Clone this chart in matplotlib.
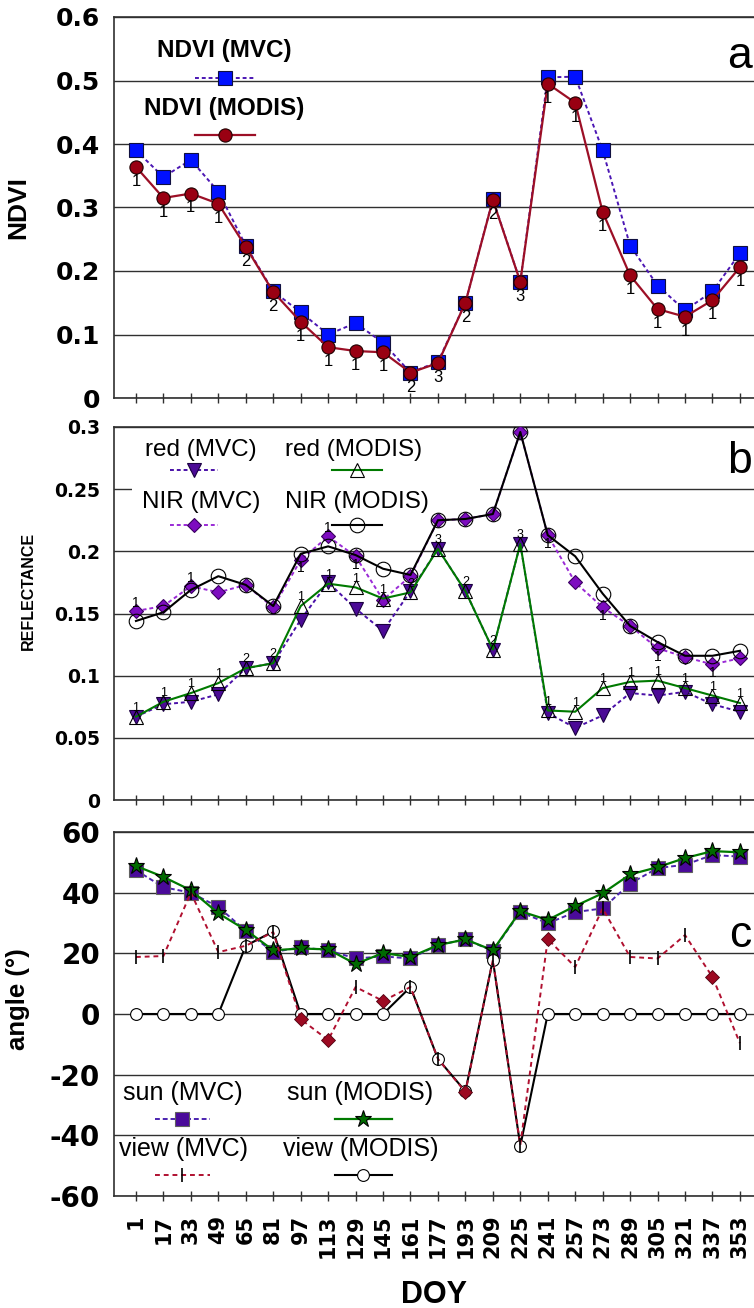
import numpy as np
import matplotlib.pyplot as plt
from matplotlib.ticker import FuncFormatter
from matplotlib.patches import Rectangle

plt.rcParams['font.family'] = ['Liberation Sans', 'DejaVu Sans']

# composite periods (day of year)
doy = [1, 17, 33, 49, 65, 81, 97, 113, 129, 145, 161, 177, 193, 209, 225,
       241, 257, 273, 289, 305, 321, 337, 353]
# number of MODIS observations in each period
n_obs = ['1', '1', '1', '1', '2', '2', '1', '1', '1', '1', '2', '3', '2', '2', '3',
         '1', '1', '1', '1', '1', '1', '1', '1']

ndvi_mvc = [0.390, 0.348, 0.375, 0.325, 0.240, 0.168, 0.135, 0.100, 0.118, 0.087, 0.040, 0.057,
            0.150, 0.313, 0.183, 0.505, 0.506, 0.390, 0.240, 0.177, 0.138, 0.168, 0.228]
ndvi_modis = [0.364, 0.315, 0.322, 0.306, 0.238, 0.167, 0.120, 0.080, 0.074, 0.072, 0.040, 0.055,
              0.150, 0.312, 0.183, 0.495, 0.465, 0.293, 0.193, 0.140, 0.128, 0.154, 0.206]

red_mvc = [0.067, 0.077, 0.079, 0.085, 0.106, 0.110, 0.145, 0.175, 0.154, 0.136, 0.168, 0.202,
           0.168, 0.121, 0.206, 0.070, 0.058, 0.068, 0.086, 0.084, 0.087, 0.077, 0.071]
red_modis = [0.067, 0.079, 0.086, 0.094, 0.106, 0.110, 0.156, 0.174, 0.171, 0.162, 0.167, 0.202,
             0.168, 0.121, 0.206, 0.072, 0.071, 0.090, 0.095, 0.096, 0.090, 0.084, 0.078]
nir_mvc = [0.152, 0.156, 0.172, 0.167, 0.173, 0.155, 0.193, 0.212, 0.196, 0.161, 0.180, 0.225,
           0.226, 0.230, 0.296, 0.213, 0.175, 0.155, 0.140, 0.122, 0.115, 0.109, 0.114]
nir_modis = [0.144, 0.151, 0.169, 0.180, 0.173, 0.156, 0.198, 0.204, 0.197, 0.186, 0.181, 0.225,
             0.226, 0.230, 0.296, 0.213, 0.196, 0.166, 0.140, 0.127, 0.116, 0.116, 0.120]
nir_one_above = [1, 33, 113]
nir_one_below = [97, 129, 241, 273, 305, 337]

sun_mvc = [47.4, 41.8, 40.0, 35.3, 27.4, 20.4, 22.0, 21.0, 18.3, 19.0, 18.3, 22.7,
           24.6, 20.8, 33.6, 29.9, 33.6, 34.8, 43.0, 48.1, 49.2, 52.4, 51.9]
sun_modis = [48.8, 45.2, 40.8, 33.2, 27.7, 21.0, 21.6, 21.3, 16.5, 20.1, 18.8, 22.7,
             24.6, 21.0, 33.9, 31.0, 35.6, 39.8, 46.0, 48.4, 51.4, 53.7, 53.3]
view_mvc = [18.8, 19.1, 40.0, 20.4, 22.5, 27.0, -1.7, -8.6, 8.9, 4.3, 8.9, -14.8,
            -25.7, 17.8, -43.2, 24.7, 15.5, 34.8, 18.8, 18.3, 26.0, 12.2, -9.6]
view_modis = [0, 0, 0, 0, 22.5, 27.2, 0, 0, 0, 0, 8.9, -14.8,
              -25.5, 17.8, -43.5, 0, 0, 0, 0, 0, 0, 0, 0]
view_diamond_doy = [97, 113, 145, 193, 241, 337]

# styles
s_ndvi_mvc = dict(color='#4b16b4', ls=(0, (2, 1.5)), lw=1.4, marker='s', ms=9.5,
                  mfc='#0010ff', mec='#101040', mew=0.8)
s_ndvi_modis = dict(color='#9c0f26', ls='-', lw=1.6, marker='o', ms=9.5,
                    mfc='#990012', mec='#200000', mew=0.8)
s_red_mvc = dict(color='#4a10a8', ls=(0, (2, 1.5)), lw=1.4, marker='v', ms=10,
                 mfc='#4b0a96', mec='#1a0040', mew=0.8)
s_red_modis = dict(color='#007a00', ls='-', lw=1.5, marker='^', ms=10,
                   mfc='none', mec='black', mew=0.8)
s_nir_mvc = dict(color='#9a2ad6', ls=(0, (2, 1.5)), lw=1.4, marker='D', ms=7.5,
                 mfc='#7d0cc0', mec='#3a0060', mew=0.8)
s_nir_modis = dict(color='black', ls='-', lw=1.5, marker='o', ms=10.5,
                   mfc='none', mec='black', mew=0.8)
s_sun_mvc = dict(color='#4b22b0', ls=(0, (2.5, 1.5)), lw=1.4, marker='s', ms=10,
                 mfc='#4a0a9a', mec='#606060', mew=0.8)
s_sun_modis = dict(color='#007a00', ls='-', lw=1.6, marker='*', ms=12.5,
                   mfc='#006a00', mec='black', mew=0.8)
s_view_mvc = dict(color='#b01030', ls=(0, (2.5, 2)), lw=1.4, marker='|', ms=10,
                  mec='black', mew=1.2)
s_view_modis = dict(color='black', ls='-', lw=1.5, marker='o', ms=8.5,
                    mfc='white', mec='black', mew=0.8)

fig = plt.figure(figsize=(7.54, 13.08), dpi=100)
left, width = 114 / 754, 1 - 114 / 754
ax_a = fig.add_axes([left, 1 - 398 / 1308, width, 381 / 1308])
ax_b = fig.add_axes([left, 1 - 800 / 1308, width, 373 / 1308])
ax_c = fig.add_axes([left, 1 - 1196 / 1308, width, 364 / 1308])

fmt = FuncFormatter(lambda v, p: '%g' % round(v, 3))
tick_fs = {ax_a: 18, ax_b: 13.5, ax_c: 20}
for ax in (ax_a, ax_b, ax_c):
    ax.set_xlim(-11.8, 361.2)
    ax.set_xticks(doy)
    ax.set_axisbelow(True)
    ax.grid(axis='y', color='#303030', lw=1.0)
    ax.spines['right'].set_visible(False)
    for sp in ('left', 'top', 'bottom'):
        ax.spines[sp].set_color('#303030')
        ax.spines[sp].set_linewidth(1.2)
    ax.tick_params(axis='x', direction='inout', length=7, width=1, color='#303030')
    ax.tick_params(axis='y', length=0, pad=10)
    ax.yaxis.set_major_formatter(fmt)
    for lab in ax.get_yticklabels():
        lab.set_family('DejaVu Sans')
        lab.set_fontweight('bold')
        lab.set_fontsize(tick_fs[ax])


def key(ax, tx, ty, label, hx0, hx1, hy, fs, weight, style):
    ax.text(tx, ty, label, transform=ax.transAxes, ha='center', va='center',
            fontsize=fs, fontweight=weight, zorder=8)
    ax.plot([hx0, (hx0 + hx1) / 2, hx1], [hy] * 3, transform=ax.transAxes,
            markevery=[1], clip_on=False, zorder=8, **style)


# ---- panel a: NDVI ----
ax_a.set_ylim(0, 0.6)
ax_a.set_yticks(np.arange(0, 0.61, 0.1))
ax_a.tick_params(axis='x', labelbottom=False)
ax_a.plot(doy, ndvi_mvc, zorder=3, **s_ndvi_mvc)
ax_a.plot(doy, ndvi_modis, zorder=4, **s_ndvi_modis)
for x, y, n in zip(doy, ndvi_modis, n_obs):
    ax_a.annotate(n, (x, y), xytext=(0, -5), textcoords='offset points',
                  ha='center', va='top', fontsize=12, zorder=5)
ax_a.set_ylabel('NDVI', fontsize=19, fontweight='bold')
ax_a.yaxis.set_label_coords(-0.131, 0.5)
ax_a.text(0.978, 0.866, 'a', transform=ax_a.transAxes, ha='center', va='baseline', fontsize=32)
key(ax_a, 0.172, 0.913, 'NDVI (MVC)', 0.127, 0.220, 0.840, 17.5, 'bold', s_ndvi_mvc)
key(ax_a, 0.172, 0.761, 'NDVI (MODIS)', 0.127, 0.220, 0.690, 17.5, 'bold', s_ndvi_modis)

# ---- panel b: reflectance ----
ax_b.set_ylim(0, 0.3)
ax_b.set_yticks(np.arange(0, 0.301, 0.05))
ax_b.tick_params(axis='x', labelbottom=False)
ax_b.add_patch(Rectangle((0.028, 0.745), 0.544, 0.25, transform=ax_b.transAxes,
                         facecolor='white', edgecolor='none', zorder=1))
ax_b.plot(doy, nir_mvc, zorder=3, **s_nir_mvc)
ax_b.plot(doy, nir_modis, zorder=4, **s_nir_modis)
ax_b.plot(doy, red_mvc, zorder=3, **s_red_mvc)
ax_b.plot(doy, red_modis, zorder=4, **s_red_modis)
for x, y, n in zip(doy, red_modis, n_obs):
    ax_b.annotate(n, (x, y), xytext=(0, 2), textcoords='offset points',
                  ha='center', va='bottom', fontsize=9, zorder=5)
for x, y in zip(doy, nir_mvc):
    if x in nir_one_above:
        ax_b.annotate('1', (x, y), xytext=(0, 1), textcoords='offset points',
                      ha='center', va='bottom', fontsize=10, zorder=5)
    elif x in nir_one_below:
        ax_b.annotate('1', (x, y), xytext=(0, -1), textcoords='offset points',
                      ha='center', va='top', fontsize=10, zorder=5)
ax_b.set_ylabel('REFLECTANCE', fontsize=11.5, fontweight='bold')
ax_b.yaxis.set_label_coords(-0.122, 0.56)
ax_b.text(0.978, 0.877, 'b', transform=ax_b.transAxes, ha='center', va='baseline', fontsize=32)
key(ax_b, 0.136, 0.938, 'red (MVC)', 0.0875, 0.1625, 0.885, 17.5, 'normal', s_red_mvc)
key(ax_b, 0.375, 0.938, 'red (MODIS)', 0.340, 0.419, 0.885, 17.5, 'normal', s_red_modis)
key(ax_b, 0.136, 0.799, 'NIR (MVC)', 0.0875, 0.1625, 0.737, 17.5, 'normal', s_nir_mvc)
key(ax_b, 0.380, 0.799, 'NIR (MODIS)', 0.340, 0.419, 0.737, 17.5, 'normal', s_nir_modis)

# ---- panel c: angles ----
ax_c.set_ylim(-60, 60)
ax_c.set_yticks(np.arange(-60, 61, 20))
ax_c.plot(doy, sun_mvc, zorder=3, **s_sun_mvc)
ax_c.plot(doy, sun_modis, zorder=4, **s_sun_modis)
ax_c.plot(doy, view_modis, zorder=5, **s_view_modis)
tick_idx = [i for i, d in enumerate(doy) if d not in view_diamond_doy]
dia_idx = [i for i, d in enumerate(doy) if d in view_diamond_doy]
ax_c.plot(doy, view_mvc, markevery=tick_idx, zorder=6, **s_view_mvc)
ax_c.plot([doy[i] for i in dia_idx], [view_mvc[i] for i in dia_idx], ls='none',
          marker='D', ms=7, mfc='#9c0a22', mec='#500010', mew=0.6, zorder=6)
ax_c.set_ylabel('angle (°)', fontsize=18.5, fontweight='bold')
ax_c.yaxis.set_label_coords(-0.131, 0.54)
ax_c.set_xlabel('DOY', fontsize=22, fontweight='bold')
ax_c.xaxis.set_label_coords(0.5, -0.231)
ax_c.tick_params(axis='x', pad=10)
for lab in ax_c.get_xticklabels():
    lab.set_family('DejaVu Sans')
    lab.set_fontweight('bold')
    lab.set_fontsize(15)
    lab.set_rotation(90)
ax_c.text(0.978, 0.684, 'c', transform=ax_c.transAxes, ha='center', va='baseline', fontsize=32)
key(ax_c, 0.108, 0.283, 'sun (MVC)', 0.064, 0.150, 0.212, 18, 'normal', s_sun_mvc)
key(ax_c, 0.385, 0.283, 'sun (MODIS)', 0.345, 0.434, 0.212, 18, 'normal', s_sun_modis)
key(ax_c, 0.108, 0.129, 'view (MVC)', 0.064, 0.150, 0.058, 18, 'normal', s_view_mvc)
key(ax_c, 0.385, 0.129, 'view (MODIS)', 0.345, 0.434, 0.058, 18, 'normal', s_view_modis)

fig.savefig('out.png', dpi=100)
